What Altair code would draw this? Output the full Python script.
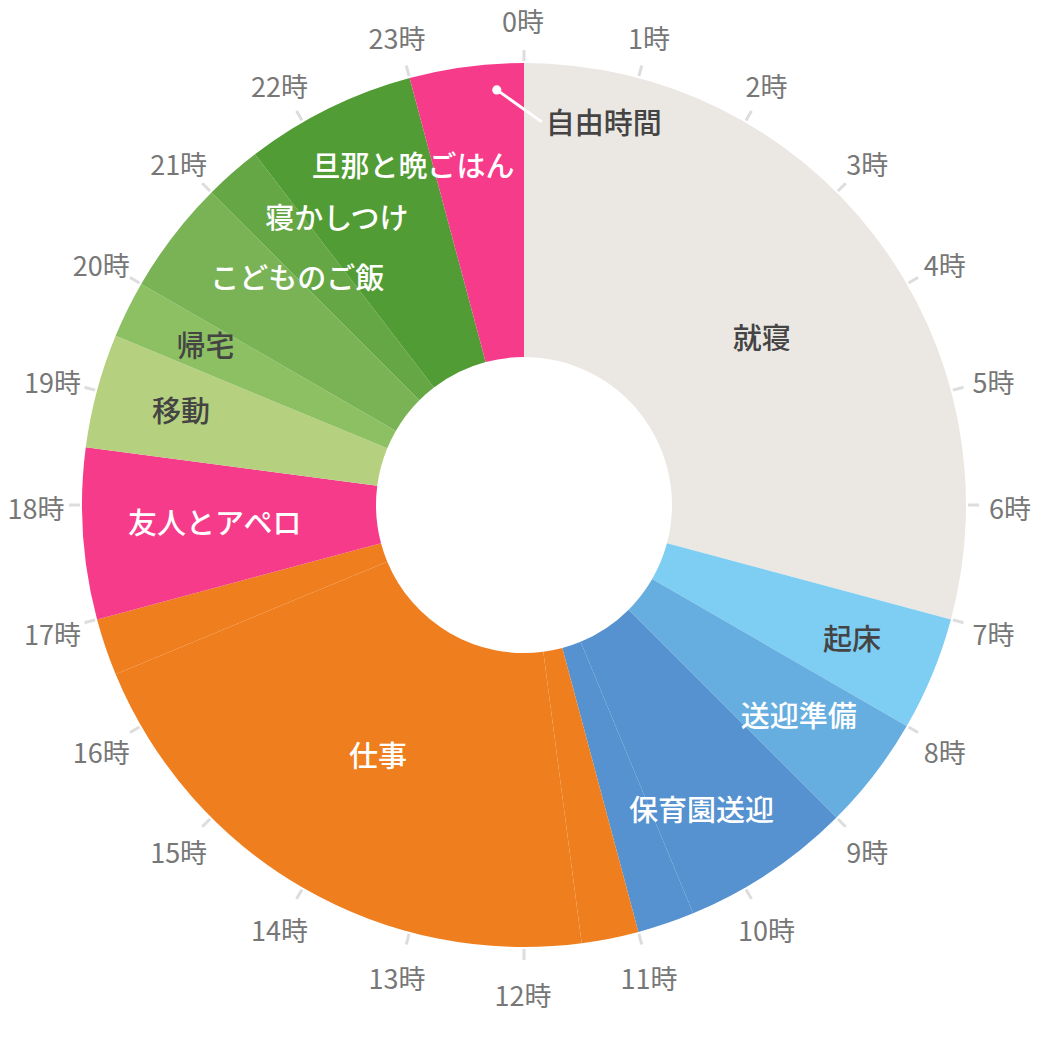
import math
import altair as alt
import pandas as pd

# ---------------- data ----------------
activities = ["就寝", "起床", "送迎準備", "保育園送迎", "保育園送迎",
              "仕事", "仕事", "仕事", "友人とアペロ", "移動", "帰宅",
              "こどものご飯", "寝かしつけ", "旦那と晩ごはん", "自由時間"]
durations = [7, 1, 1, 1.5, 0.5, 0.5, 5, 0.5, 1.5, 1, 0.5, 1, 0.5, 1.5, 1]
clock_hours = list(range(24))
clock_labels = ["0時", "1時", "2時", "3時", "4時", "5時", "6時", "7時", "8時",
                "9時", "10時", "11時", "12時", "13時", "14時", "15時", "16時",
                "17時", "18時", "19時", "20時", "21時", "22時", "23時"]
callout_activity = "自由時間"

# ---------------- styles ----------------
COLORS = {
    "就寝": "#ebe7e3", "起床": "#7ecdf3", "送迎準備": "#67aee0",
    "保育園送迎": "#5592cf", "仕事": "#ef7e1f", "友人とアペロ": "#f63b8b",
    "移動": "#b5d07e", "帰宅": "#8cc063", "こどものご飯": "#7ab356",
    "寝かしつけ": "#66a745", "旦那と晩ごはん": "#529c35", "自由時間": "#f63b8b",
}
DARK_TEXT = {"就寝", "起床", "移動", "帰宅", "自由時間"}
FONT = "Noto Sans CJK JP"

W, H = 1024, 1021
CX, CY = 516, 497
R_OUT, R_IN = 442, 148
R_TICK0, R_TICK1 = 444, 455
R_CLOCK = 487
CLOCK_SHIFT = (-1, 6)   # clock labels sit on a slightly shifted circle

# label placement rules (radius by slice size, small nudges for crowded labels)
LABEL_R_BIG, LABEL_R_SMALL = 292, 355
LABEL_R_OVERRIDE = {"友人とアペロ": 310}
LABEL_NUDGE = {"就寝": (6, 13), "送迎準備": (-7, -3), "こどものご飯": (55, -9),
               "寝かしつけ": (47, -18), "旦那と晩ごはん": (46, -19)}


def polar(hour, r):
    a = math.radians(hour * 15.0)
    return CX + r * math.sin(a), CY - r * math.cos(a)


# slices
seg = pd.DataFrame({"activity": activities, "hours": durations})
seg["order"] = range(len(seg))
seg["color"] = seg["activity"].map(COLORS)
seg["end"] = seg["hours"].cumsum()
seg["start"] = seg["end"] - seg["hours"]

arcs = alt.Chart(seg).mark_arc(radius=R_OUT, radius2=R_IN).encode(
    theta=alt.Theta("hours:Q", stack=True),
    order=alt.Order("order:Q"),
    color=alt.Color("color:N", scale=None),
    x=alt.value(CX),
    y=alt.value(CY),
)

# labels, one per activity, at the middle of its span
grp = seg.groupby("activity", sort=False).agg(start=("start", "min"), end=("end", "max")).reset_index()
rows = []
for _, g in grp.iterrows():
    if g["activity"] == callout_activity:
        continue
    span = g["end"] - g["start"]
    mid = (g["start"] + g["end"]) / 2
    r = LABEL_R_OVERRIDE.get(g["activity"], LABEL_R_BIG if span >= 5 else LABEL_R_SMALL)
    x, y = polar(mid, r)
    dx, dy = LABEL_NUDGE.get(g["activity"], (0, 0))
    rows.append({"label": g["activity"], "x": x + dx, "y": y + dy,
                 "tcolor": "#444444" if g["activity"] in DARK_TEXT else "#ffffff"})
lab = pd.DataFrame(rows)

labels = alt.Chart(lab).mark_text(font=FONT, fontSize=29, fontWeight=500,
                                  align="center", baseline="middle").encode(
    x=alt.X("x:Q", scale=None, axis=None),
    y=alt.Y("y:Q", scale=None, axis=None),
    text="label:N",
    color=alt.Color("tcolor:N", scale=None),
)

# callout for the free-time slice
cg = grp[grp["activity"] == callout_activity].iloc[0]
dot_x, dot_y = polar(cg["start"] + 0.75 * (cg["end"] - cg["start"]), 416)
call = pd.DataFrame({"x": [dot_x], "y": [dot_y], "x2": [dot_x + 45], "y2": [dot_y + 32],
                     "tx": [dot_x + 49], "ty": [dot_y + 35], "label": [callout_activity]})
call_line = alt.Chart(call).mark_rule(color="white", strokeWidth=3).encode(
    x=alt.X("x:Q", scale=None, axis=None), y=alt.Y("y:Q", scale=None, axis=None),
    x2="x2:Q", y2="y2:Q")
call_dot = alt.Chart(call).mark_circle(color="white", opacity=1, size=85).encode(
    x=alt.X("x:Q", scale=None, axis=None), y=alt.Y("y:Q", scale=None, axis=None))
call_text = alt.Chart(call).mark_text(font=FONT, fontSize=29, fontWeight=500, align="left",
                                      baseline="middle", color="#444444").encode(
    x=alt.X("tx:Q", scale=None, axis=None), y=alt.Y("ty:Q", scale=None, axis=None),
    text="label:N")

# clock ticks and labels
tk = []
for h, t in zip(clock_hours, clock_labels):
    x0, y0 = polar(h, R_TICK0)
    x1, y1 = polar(h, R_TICK1)
    lx, ly = polar(h, R_CLOCK)
    tk.append({"x": x0, "y": y0, "x2": x1, "y2": y1,
               "lx": lx + CLOCK_SHIFT[0], "ly": ly + CLOCK_SHIFT[1], "label": t})
tk = pd.DataFrame(tk)

ticks = alt.Chart(tk).mark_rule(color="#dddddd", strokeWidth=3).encode(
    x=alt.X("x:Q", scale=None, axis=None), y=alt.Y("y:Q", scale=None, axis=None),
    x2="x2:Q", y2="y2:Q")
tick_labels = alt.Chart(tk).mark_text(font=FONT, fontSize=27, color="#777777",
                                      align="center", baseline="middle").encode(
    x=alt.X("lx:Q", scale=None, axis=None), y=alt.Y("ly:Q", scale=None, axis=None),
    text="label:N")

chart = alt.layer(arcs, labels, call_line, call_dot, call_text, ticks, tick_labels).properties(
    width=W, height=H, padding=0, autosize=alt.AutoSizeParams(type="none"),
    background="white",
).configure_view(stroke=None)

chart.save("out.html", embed_options={"renderer": "svg", "actions": False})
